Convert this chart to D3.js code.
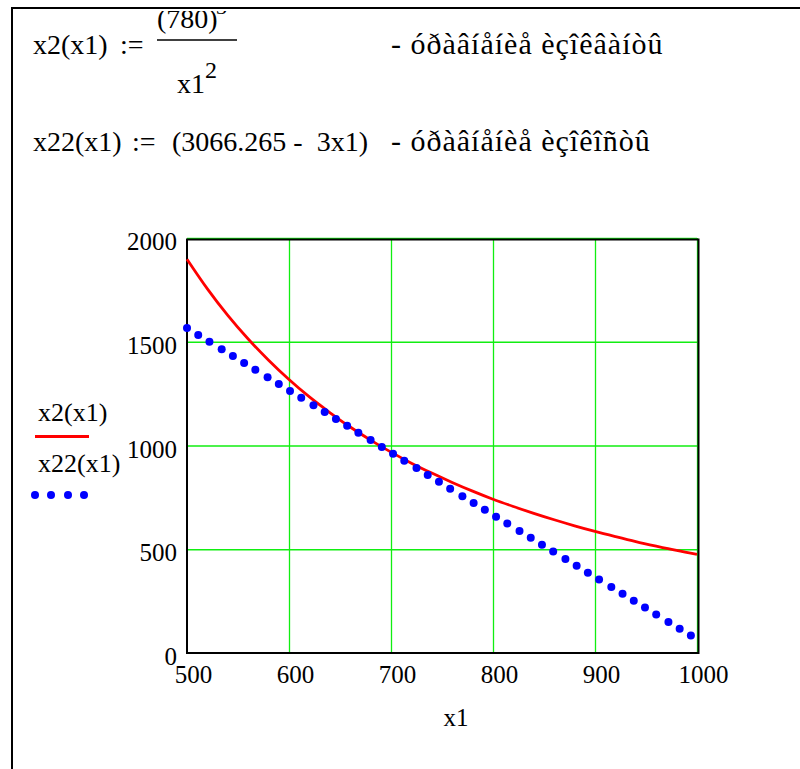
<!DOCTYPE html>
<html>
<head>
<meta charset="utf-8">
<script src="https://cdn.jsdelivr.net/npm/d3@7"></script>
<style>
    body { margin: 0; background: #fff; }
</style>
</head>
<body>
<div id="chart"></div>
<script>
// x2(x1) - red curve
const curveX = [500, 520, 540, 560, 580, 600, 620, 640, 660, 680, 700, 720, 740, 760, 780, 800, 820, 840, 860, 880, 900, 920, 940, 960, 980, 1000];
const curveY = [1898, 1755, 1627, 1513, 1411, 1318, 1234, 1159, 1089, 1026, 968, 915, 867, 822, 780, 741, 706, 673, 642, 613, 586, 561, 537, 515, 494, 475];

// x22(x1) - blue dots
const dotX = [500, 511, 522, 534, 545, 556, 567, 579, 590, 601, 612, 624, 635, 646, 657, 668, 680, 691, 702, 713, 725, 736, 747, 758, 770, 781, 792, 803, 814, 826, 837, 848, 859, 871, 882, 893, 904, 916, 927, 938, 949, 960, 972, 983, 994];
const dotY = [1566, 1533, 1500, 1464, 1431, 1398, 1365, 1329, 1296, 1263, 1230, 1194, 1161, 1128, 1095, 1062, 1026, 993, 960, 927, 891, 858, 825, 792, 756, 723, 690, 657, 624, 588, 555, 522, 489, 453, 420, 387, 354, 318, 285, 252, 219, 186, 150, 117, 84];

const xTicks = [500, 600, 700, 800, 900, 1000];
const yTicks = [0, 500, 1000, 1500, 2000];

const FONT = '"Liberation Serif"';
const width = 800;
const height = 769;
const plot = { left: 187, right: 697, top: 238, bottom: 653 };

const svg = d3
    .select('#chart')
    .append('svg')
    .attr('width', width)
    .attr('height', height);

// page frame (top and left edge only)
svg.append('line').attr('x1', 11).attr('x2', width).attr('y1', 8).attr('y2', 8)
    .attr('stroke', '#000').attr('stroke-width', 2);
svg.append('line').attr('x1', 12).attr('x2', 12).attr('y1', 7).attr('y2', height)
    .attr('stroke', '#000').attr('stroke-width', 2);

// heading, clipped at the frame like in the worksheet
svg.append('clipPath').attr('id', 'page')
    .append('rect').attr('x', 13).attr('y', 11).attr('width', width).attr('height', height);

const head = svg.append('g').attr('clip-path', 'url(#page)');

function say(g, x0, y0, size, s) {
    return g.append('text').attr('x', x0).attr('y', y0)
        .style('font-family', FONT).style('font-size', size + 'px').text(s);
}

say(head, 33, 54, 28, 'x2(x1)');
say(head, 120, 54, 28, ':=');
say(head, 157, 28, 28, '(780)');
say(head, 216, 14, 22, '3');
head.append('line').attr('x1', 157).attr('x2', 237).attr('y1', 40).attr('y2', 40)
    .attr('stroke', '#000').attr('stroke-width', 1.5);
say(head, 177, 93, 28, 'x1');
say(head, 205, 78, 24, '2');
say(head, 391, 54, 30, '- óðàâíåíèå èçîêâàíòû').style('letter-spacing', '1px');

say(head, 33, 151, 28, 'x22(x1)');
say(head, 132, 151, 28, ':=');
say(head, 172, 151, 28, '(3066.265 -\u00a0 3x1)');
say(head, 391, 151, 30, '- óðàâíåíèå èçîêîñòû').style('letter-spacing', '1px');

const x = d3
    .scaleLinear()
    .domain([500, 1000])
    .range([plot.left, plot.right]);

const y = d3
    .scaleLinear()
    .domain([0, 2000])
    .range([plot.bottom, plot.top]);

// grid
svg
    .append('g')
    .attr('class', 'grid')
    .attr('transform', `translate(0, ${plot.bottom})`)
    .call(d3.axisBottom(x).tickValues(xTicks.slice(1)).tickSize(-(plot.bottom - plot.top)).tickFormat(''));
svg
    .append('g')
    .attr('class', 'grid')
    .attr('transform', `translate(${plot.left}, 0)`)
    .call(d3.axisLeft(y).tickValues(yTicks.slice(1)).tickSize(-(plot.right - plot.left)).tickFormat(''));
svg.selectAll('.grid .domain').remove();
svg.selectAll('.grid line').attr('stroke', '#11ee11').attr('stroke-width', 1.3);

// frame
svg
    .append('path')
    .attr('d', `M${plot.left},${y(2000) + 1.5}H${x(1000) + 1.5}V${plot.bottom}H${plot.left}Z`)
    .attr('fill', 'none')
    .attr('stroke', '#000')
    .attr('stroke-width', 2);

// axis labels
const xAxis = svg
    .append('g')
    .attr('transform', `translate(6, ${plot.bottom})`)
    .call(d3.axisBottom(x).tickValues(xTicks).tickSize(0).tickPadding(12).tickFormat(d3.format('d')));
const yAxis = svg
    .append('g')
    .attr('transform', `translate(${plot.left - 10}, 0)`)
    .call(d3.axisLeft(y).tickValues(yTicks).tickSize(0).tickPadding(0).tickFormat(d3.format('d')));
svg.selectAll('.domain').remove();
[xAxis, yAxis].forEach(a => a.selectAll('text')
    .style('font-family', FONT)
    .style('font-size', '25px')
    .attr('fill', '#000'));
yAxis.selectAll('text').attr('dy', '0.46em');

say(svg, 456, 726, 25, 'x1').attr('text-anchor', 'middle');

// series
svg
    .append('path')
    .datum(curveX.map((d, i) => [d, curveY[i]]))
    .attr('d', d3.line().x(d => x(d[0])).y(d => y(d[1])).curve(d3.curveMonotoneX))
    .attr('fill', 'none')
    .attr('stroke', '#ff0000')
    .attr('stroke-width', 2.8);

svg
    .selectAll('circle.dot')
    .data(dotX.map((d, i) => [d, dotY[i]]))
    .join('circle')
    .attr('class', 'dot')
    .attr('cx', d => x(d[0]))
    .attr('cy', d => y(d[1]))
    .attr('r', 4)
    .attr('fill', '#0000ff');

// legend
say(svg, 38, 421, 26, 'x2(x1)');
svg.append('line').attr('x1', 35).attr('x2', 89).attr('y1', 436.5).attr('y2', 436.5)
    .attr('stroke', '#ff0000').attr('stroke-width', 3);
say(svg, 38, 472, 26, 'x22(x1)');
svg
    .selectAll('circle.key')
    .data([35, 51, 68, 84])
    .join('circle')
    .attr('class', 'key')
    .attr('cx', d => d)
    .attr('cy', 495)
    .attr('r', 4)
    .attr('fill', '#0000ff');
</script>
</body>
</html>
